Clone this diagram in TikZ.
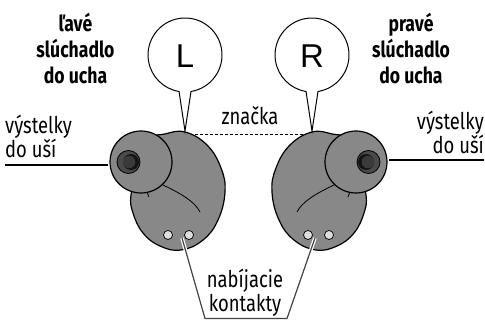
\documentclass[tikz,border=0pt]{standalone}
\usepackage{fontspec}
\setmainfont{Fira Sans}[FakeStretch=0.8]
\newfontfamily\bubblefont{Liberation Sans}
\usetikzlibrary{positioning}

\definecolor{budgray}{HTML}{888888}
\definecolor{tipring}{HTML}{4A4A4A}
\definecolor{tiphole}{HTML}{141414}
\definecolor{tipinner}{HTML}{3A3A3A}
\definecolor{pingray}{HTML}{DDDDDD}
\definecolor{leadgray}{HTML}{444444}

\tikzset{
    bud/.style={draw=black, line width=1.2pt, fill=budgray},
    crease/.style={draw=black, line width=0.8pt},
    pin/.style={draw=black, line width=0.7pt, fill=pingray},
    bubble/.style={draw=black, line width=1pt, fill=white},
    lead/.style={draw=leadgray, line width=1.2pt, preaction={draw=white, line width=3.6pt}},
    pointer/.style={draw=black, line width=1.1pt},
    note/.style={font=\fontsize{23}{24}\selectfont, inner sep=0pt},
    title/.style={font=\bfseries\fontsize{22}{26}\selectfont, align=center, inner sep=0pt},
    letter/.style={font=\bubblefont\fontsize{33}{33}\selectfont, inner sep=0pt}
}

% one earbud, drawn in pixel units (left one; the right one is mirrored)
\newcommand\earbud{%
    \draw[bud] plot[smooth cycle, tension=0.7] coordinates {(150,140) (165,134) (185,132)
        (207,145) (221,168) (225,192) (218,220) (203,240) (181,250) (160,246)
        (143,233) (133,213) (131,195) (138,170)};
    \draw[crease] (163,185) .. controls (182,194) and (195,202) .. (200,212);
    \draw[crease] (147,192) -- (149,197);
    \draw[pin] (168,235) circle (4.5);
    \draw[pin] (189,235) circle (4.5);
    \draw[bud] (141,162) circle (31);
    \draw[black, line width=0.8pt, fill=tipring] (128.5,162) circle (11.5);
    \fill[tiphole] (131,162) circle (8);
    \fill[tipinner] (129,162) circle (6.3);
}

\begin{document}
\begin{tikzpicture}[x=1pt, y=-1pt]
    \useasboundingbox (0,0) rectangle (485,320);

    % marker line between the two tops
    \coordinate (ltop) at (185,134);
    \coordinate (rtop) at (312,134);
    \draw[black, line width=0.9pt, dash pattern=on 3pt off 2pt] (ltop) -- (rtop);

    % earbuds
    \earbud
    \begin{scope}[shift={(497,0)}, xscale=-1]
        \earbud
    \end{scope}

    % charging contacts lead
    \coordinate (lpin) at (182,238);
    \coordinate (rpin) at (315,238);
    \coordinate (lfoot) at (205,318.5);
    \coordinate (rfoot) at (287,318.5);
    \draw[lead] (lpin) -- (lfoot) -- (rfoot) -- (rpin);

    % bubbles
    \draw[bubble] (191,91.5) arc[start angle=80.7, end angle=-260.7, radius=37] -- (185,131) -- cycle;
    \draw[bubble] (318,91.5) arc[start angle=80.7, end angle=-260.7, radius=37] -- (312,131) -- cycle;
    \node[letter] (lbub) at (185,56) {L};
    \node[letter] (rbub) at (312,56) {R};

    % labels
    \node[title] (ltitle) at (75.5,49) {ľavé\\slúchadlo\\do ucha};
    \node[title] (rtitle) at (411,49) {pravé\\slúchadlo\\do ucha};
    \node[note] (mark) at (250,116) {značka};
    \node[note, align=left, anchor=west] (lliner) at (5,136) {výstelky\\do uší};
    \node[note, align=right, anchor=east] (rliner) at (484,132) {výstelky\\do uší};
    \node[note, align=center] (pins) at (245,293) {nabíjacie\\kontakty};

    \coordinate (lcush) at (108,165);
    \coordinate (rcush) at (389,160);
    \draw[pointer] (lliner.west |- lcush) -- (lcush);
    \draw[pointer] (rcush) -- (rliner.east |- rcush);
\end{tikzpicture}
\end{document}
